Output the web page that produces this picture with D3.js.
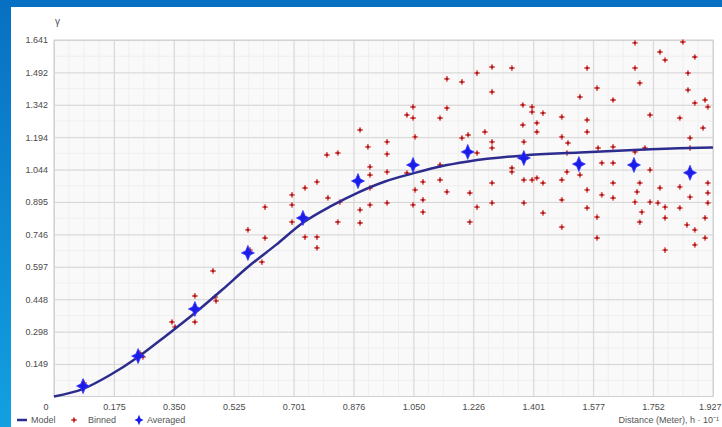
<!DOCTYPE html>
<html>
<head>
<meta charset="utf-8">
<script src="https://cdn.jsdelivr.net/npm/d3@7"></script>
<style>
  html, body { margin: 0; padding: 0; background: #0b76c6; }
  svg { display: block; font-family: "Liberation Sans", Arial, sans-serif; }
</style>
</head>
<body>
<svg id="chart" width="722" height="427"></svg>
<script>
// Semivariogram: model curve, binned and averaged values
const xTickValues = [0, 0.1752, 0.3504, 0.5256, 0.7008, 0.876, 1.0512, 1.2264, 1.4016, 1.5768, 1.752, 1.9272];
const xTickLabels = ["0", "0.175", "0.350", "0.525", "0.701", "0.876", "1.050", "1.226", "1.401", "1.577", "1.752", "1.927"];
const yTickValues = [0.1492, 0.2984, 0.4476, 0.5968, 0.746, 0.8952, 1.0444, 1.1936, 1.3428, 1.492, 1.6412];
const yTickLabels = ["0.149", "0.298", "0.448", "0.597", "0.746", "0.895", "1.044", "1.194", "1.342", "1.492", "1.641"];

const modelH = [0, 0.085, 0.164, 0.246, 0.327, 0.412, 0.491, 0.567, 0.649, 0.728, 0.807, 0.889, 0.968, 1.050, 1.129, 1.211, 1.374, 1.538, 1.696, 1.860, 1.927];
const modelG = [0, 0.035, 0.099, 0.182, 0.279, 0.384, 0.490, 0.596, 0.698, 0.800, 0.874, 0.939, 0.990, 1.027, 1.059, 1.082, 1.110, 1.123, 1.135, 1.144, 1.146];

const avgH = [0.085, 0.246, 0.412, 0.567, 0.728, 0.889, 1.050, 1.210, 1.374, 1.535, 1.696, 1.860];
const avgG = [0.048, 0.186, 0.403, 0.661, 0.822, 0.992, 1.066, 1.126, 1.098, 1.070, 1.066, 1.030];

const binned = [
  [0.088,0.062],[0.251,0.200],[0.260,0.182],[0.345,0.343],[0.354,0.320],[0.412,0.463],[0.412,0.343],[0.465,0.578],[0.471,0.458],[0.474,0.440],
  [0.567,0.767],[0.573,0.674],[0.617,0.872],[0.617,0.730],[0.608,0.619],[0.696,0.928],[0.696,0.882],[0.696,0.803],[0.734,0.960],[0.769,0.988],
  [0.801,0.914],[0.769,0.734],[0.769,0.684],[0.734,0.734],[0.798,1.112],[0.830,1.121],[0.836,0.895],[0.830,0.803],[0.895,1.227],[0.895,0.859],
  [0.895,0.799],[0.918,1.149],[0.924,1.057],[0.924,1.020],[0.924,0.960],[0.924,0.882],[0.974,1.172],[0.974,1.116],[0.974,1.034],[0.974,0.891],
  [1.032,1.029],[1.050,1.333],[1.032,1.296],[1.050,1.282],[1.056,1.195],[1.056,0.951],[1.050,0.882],[1.079,0.988],[1.079,0.905],[1.079,0.849],
  [1.129,1.282],[1.149,1.328],[1.149,1.462],[1.193,1.448],[1.237,1.489],[1.281,1.517],[1.281,1.402],[1.339,1.512],[1.129,1.066],[1.129,0.997],
  [1.149,0.942],[1.193,1.190],[1.211,1.204],[1.237,1.121],[1.260,1.218],[1.281,1.172],[1.281,1.144],[1.216,0.937],[1.216,0.803],[1.237,0.872],
  [1.281,0.983],[1.281,0.891],[1.339,1.052],[1.339,1.034],[1.371,1.342],[1.398,1.333],[1.398,1.310],[1.430,1.305],[1.485,1.287],[1.371,1.250],
  [1.412,1.259],[1.412,1.218],[1.485,1.195],[1.374,1.172],[1.374,0.997],[1.374,0.891],[1.398,0.997],[1.412,1.006],[1.430,0.983],[1.430,0.845],
  [1.485,0.997],[1.485,0.905],[1.485,0.780],[1.500,1.121],[1.500,1.034],[1.503,1.167],[1.538,1.020],[1.559,0.951],[1.559,0.868],[1.559,1.218],
  [1.588,0.826],[1.588,0.730],[1.591,1.144],[1.602,1.075],[1.602,0.928],[1.635,1.149],[1.635,1.075],[1.635,0.983],[1.635,0.914],[1.699,1.126],
  [1.699,0.895],[1.705,0.942],[1.713,0.983],[1.719,0.849],[1.713,0.803],[1.728,1.144],[1.743,1.043],[1.743,0.895],[1.766,0.891],[1.772,0.960],
  [1.787,0.872],[1.787,0.822],[1.787,0.674],[1.830,0.965],[1.830,0.868],[1.860,1.190],[1.860,1.144],[1.860,0.918],[1.851,0.790],[1.874,0.767],
  [1.904,0.730],[1.874,0.698],[1.912,0.983],[1.912,0.937],[1.912,0.891],[1.904,0.822],[1.538,1.379],[1.588,1.420],[1.559,1.273],[1.635,1.365],
  [1.699,1.628],[1.699,1.512],[1.713,1.443],[1.772,1.586],[1.787,1.549],[1.743,1.296],[1.839,1.632],[1.874,1.563],[1.854,1.489],[1.854,1.411],
  [1.874,1.351],[1.904,1.365],[1.912,1.333],[1.830,1.282],[1.898,1.236],[1.559,1.512]
];

const svg = d3.select("#chart");

// Blue frame and white panel
const defs = svg.append("defs");
const grad = defs.append("linearGradient").attr("id", "frame").attr("x1", 0).attr("y1", 0).attr("x2", 0).attr("y2", 1);
grad.append("stop").attr("offset", "0%").attr("stop-color", "#0870c2");
grad.append("stop").attr("offset", "100%").attr("stop-color", "#12a0e0");
svg.append("rect").attr("width", 722).attr("height", 427).attr("fill", "url(#frame)");
svg.append("rect").attr("x", 11).attr("y", 7).attr("width", 711).attr("height", 420).attr("fill", "#ffffff");

const margin = { top: 40, right: 9, bottom: 30.5, left: 54 };
const width = 722 - margin.left - margin.right;
const height = 427 - margin.top - margin.bottom;

const g = svg.append("g").attr("transform", `translate(${margin.left},${margin.top})`);

const x = d3.scaleLinear().domain([0, 1.9272]).range([0, width]);
const y = d3.scaleLinear().domain([0, 1.6412]).range([height, 0]);

g.append("rect").attr("width", width).attr("height", height).attr("fill", "#f9f9f9");

// Minor grid
const xMinor = d3.range(0, 1.9272, 0.1752 / 4);
const yMinor = d3.range(0, 1.6412, 0.1492 / 2);
g.append("g").selectAll("line").data(xMinor).join("line")
  .attr("x1", d => x(d)).attr("x2", d => x(d)).attr("y1", 0).attr("y2", height)
  .attr("stroke", "#efefef").attr("stroke-width", 1);
g.append("g").selectAll("line").data(yMinor).join("line")
  .attr("y1", d => y(d)).attr("y2", d => y(d)).attr("x1", 0).attr("x2", width)
  .attr("stroke", "#efefef").attr("stroke-width", 1);

// Major grid
g.append("g").call(d3.axisBottom(x).tickValues(xTickValues).tickSize(-height).tickFormat(""))
  .attr("transform", `translate(0,${height})`)
  .call(a => a.select(".domain").remove())
  .call(a => a.selectAll("line").attr("stroke", "#d6d6d6"));
g.append("g").call(d3.axisLeft(y).tickValues(yTickValues).tickSize(-width).tickFormat(""))
  .call(a => a.select(".domain").remove())
  .call(a => a.selectAll("line").attr("stroke", "#d6d6d6"));

g.append("rect").attr("width", width).attr("height", height)
  .attr("fill", "none").attr("stroke", "#d0d0d0");

// Tick labels
const xAxis = g.append("g").attr("transform", `translate(0,${height})`)
  .call(d3.axisBottom(x).tickValues(xTickValues).tickSize(0).tickPadding(7)
    .tickFormat((d, i) => xTickLabels[i]));
xAxis.select(".domain").remove();
xAxis.selectAll("text").attr("fill", "#4a4a4a").attr("font-size", 9);
xAxis.selectAll("text").filter((d, i) => i === 0).attr("text-anchor", "end").attr("dx", -6);
xAxis.selectAll("text").filter((d, i) => i === xTickValues.length - 1).attr("text-anchor", "end").attr("dx", 8);

const yAxis = g.append("g")
  .call(d3.axisLeft(y).tickValues(yTickValues).tickSize(0).tickPadding(6)
    .tickFormat((d, i) => yTickLabels[i]));
yAxis.select(".domain").remove();
yAxis.selectAll("text").attr("fill", "#4a4a4a").attr("font-size", 9);

// Axis titles
svg.append("text").attr("x", 55).attr("y", 25).attr("font-size", 10).attr("fill", "#555").text("γ");
svg.append("text").attr("x", 719).attr("y", 423).attr("text-anchor", "end")
  .attr("font-size", 9).attr("fill", "#555").text("Distance (Meter), h · 10⁻¹");

// Binned points
const cross = d3.symbol().type(d3.symbolCross).size(18);
const binG = g.append("g");
binG.selectAll("path").data(binned).join("path")
  .attr("transform", d => `translate(${x(d[0])},${y(d[1])})`)
  .attr("d", cross).attr("fill", "#e67474");
binG.selectAll("circle").data(binned).join("circle")
  .attr("cx", d => x(d[0])).attr("cy", d => y(d[1])).attr("r", 1.4).attr("fill", "#a81c1c");

// Model curve
const model = modelH.map((h, i) => ({ h, g: modelG[i] }));
const line = d3.line().x(d => x(d.h)).y(d => y(d.g)).curve(d3.curveMonotoneX);
g.append("path").datum(model).attr("d", line)
  .attr("fill", "none").attr("stroke", "#2c2c8e").attr("stroke-width", 2.5);

// Averaged points (four-point star)
const star = "M0,-7.5L2.2,-2.2L6.5,0L2.2,2.2L0,7.5L-2.2,2.2L-6.5,0L-2.2,-2.2Z";
const avg = avgH.map((h, i) => ({ h, g: avgG[i] }));
g.append("g").selectAll("path").data(avg).join("path")
  .attr("transform", d => `translate(${x(d.h)},${y(d.g)})`)
  .attr("d", star).attr("fill", "#1c1ce8").attr("stroke", "#3a3aff").attr("stroke-width", 0.8);

// Legend
const leg = svg.append("g").attr("transform", "translate(0,420)").attr("font-size", 9).attr("fill", "#555");
leg.append("line").attr("x1", 17).attr("x2", 27).attr("y1", 0).attr("y2", 0)
  .attr("stroke", "#2c2c8e").attr("stroke-width", 2.5);
leg.append("text").attr("x", 31).attr("y", 3).text("Model");
leg.append("path").attr("transform", "translate(74,0)").attr("d", cross).attr("fill", "#e67474");
leg.append("circle").attr("cx", 74).attr("cy", 0).attr("r", 1.4).attr("fill", "#a81c1c");
leg.append("text").attr("x", 88).attr("y", 3).text("Binned");
leg.append("path").attr("transform", "translate(139,0) scale(0.7)").attr("d", star).attr("fill", "#1c1ce8");
leg.append("text").attr("x", 147).attr("y", 3).text("Averaged");
</script>
</body>
</html>
